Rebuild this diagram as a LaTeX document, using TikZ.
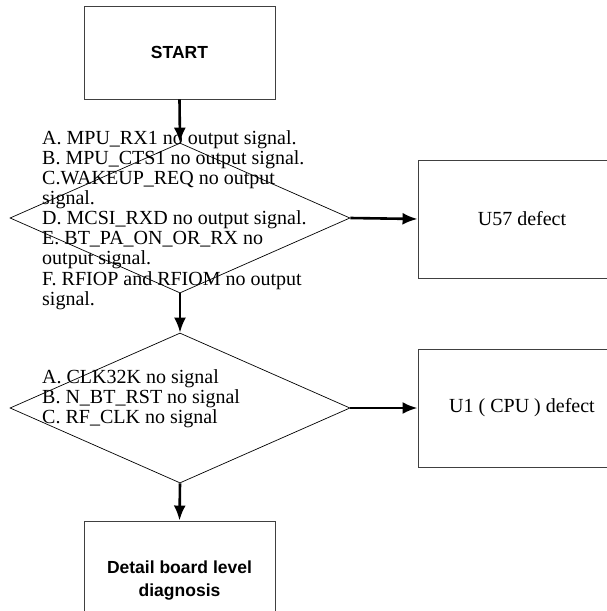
\documentclass[tikz,border=0pt]{standalone}
\usepackage{fontspec}
\setmainfont{Liberation Serif}
\setsansfont{Liberation Sans}
\usepackage{tikz}
\usetikzlibrary{positioning,shapes.geometric,arrows.meta}

\begin{document}
\begin{tikzpicture}[x=1pt, y=-1pt,
    box/.style={draw=black!75, line width=0.9pt, minimum width=191pt, minimum height=93pt, align=center, inner sep=0pt},
    sidebox/.style={draw=black!75, line width=0.9pt, minimum width=208pt, minimum height=118pt, align=center, inner sep=0pt,
        font=\fontsize{20}{22}\selectfont},
    check/.style={draw, diamond, line width=0.7pt, minimum width=340pt, minimum height=150pt, inner sep=0pt},
    cond/.style={align=left, inner sep=0pt, font=\fontsize{20}{20.1}\selectfont},
    title/.style={font=\sffamily\bfseries\fontsize{17.5}{23}\selectfont},
    arrow/.style={-{Latex[length=15pt,width=12pt]}, line width=2.6pt}]

    \useasboundingbox (0,0) rectangle (607,611);

    % Start
    \node[box, title] (start) at (179.5,52.5) {START};

    % First check
    \node[check] (check1) at (180,218) {};
    \node[cond, anchor=west] (cond1) at (42,220) {A. MPU\_RX1 no output signal.\\
        B. MPU\_CTS1 no output signal.\\
        C.WAKEUP\_REQ no output\\
        signal.\\
        D. MCSI\_RXD no output signal.\\
        E. BT\_PA\_ON\_OR\_RX no\\
        output signal.\\
        F. RFIOP and RFIOM no output\\
        signal.};

    % Second check
    \node[check] (check2) at (180,408) {};
    \node[cond, anchor=west] (cond2) at (42,399) {A. CLK32K no signal\\
        B. N\_BT\_RST no signal\\
        C. RF\_CLK no signal};

    % Results
    \node[sidebox] (u57) at (522,219) {U57 defect};
    \node[sidebox] (u1) at (522,408) {U1 ( CPU ) defect};
    \node[box, title, minimum height=119pt] (detail) at (179.5,580.5) {Detail board level\\diagnosis};

    % Connect
    \draw[arrow] (start.south) -- (check1.north);
    \draw[arrow] (check1.south) -- (check2.north);
    \draw[arrow] (check2.south) -- (detail.north);
    \draw[arrow] (check1.east) -- (u57.west);
    \draw[arrow] (check2.east) -- (u1.west);
\end{tikzpicture}
\end{document}
